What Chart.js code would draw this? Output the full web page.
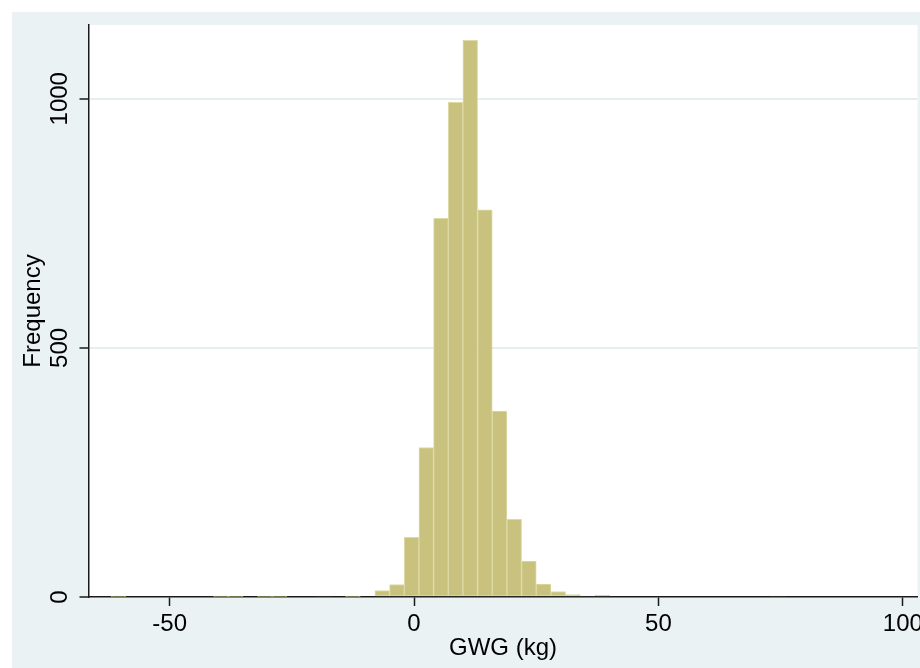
<!DOCTYPE html>
<html>
<head>
<meta charset="utf-8">
<script src="https://cdn.jsdelivr.net/npm/chart.js@4.4.1/dist/chart.umd.min.js"></script>
<style>
  html, body { margin: 0; padding: 0; background: #fff; }
  #wrap { width: 920px; height: 668px; }
</style>
</head>
<body>
<div id="wrap"><canvas id="hist" width="920" height="668"></canvas></div>
<script>
// histogram bins: lower edge of first bin and bin width (kg)
const binStart = -62;
const binWidth = 3;
// frequency in each bin
const counts = [
  1, 0, 0, 0, 0, 0, 0, 1, 1, 0, 1, 1, 0, 0, 2, 0, 1, 0,
  13, 25, 120, 300, 760, 993, 1117, 777, 373, 156, 72, 26, 11, 5, 2, 4,
  0, 0, 0, 0, 0, 0, 0, 0, 0, 0, 0, 2, 0, 0, 0, 0, 0, 0, 0, 0, 0
];
const xTicks = [-50, 0, 50, 100];
const yTicks = [0, 500, 1000];
const xTitle = "GWG (kg)";
const yTitle = "Frequency";

const barData = counts.map((c, i) => ({ x: binStart + binWidth * (i + 0.5), y: c }));

const font = { family: "'Liberation Sans', Arial, sans-serif", size: 24 };
const ink = "#1a1a1a";

// stata-style light graph region and white plot region
const stataBg = {
  id: "stataBg",
  beforeDraw(chart) {
    const ctx = chart.ctx;
    const a = chart.chartArea;
    ctx.save();
    ctx.fillStyle = "#eaf2f3";
    ctx.fillRect(12, 12, chart.width - 12, chart.height - 12);
    ctx.fillStyle = "#ffffff";
    ctx.fillRect(a.left, a.top, a.right - a.left, a.bottom - a.top);
    ctx.restore();
  }
};

const ctx = document.getElementById("hist").getContext("2d");
new Chart(ctx, {
  type: "bar",
  data: {
    datasets: [{
      label: yTitle,
      data: barData,
      backgroundColor: "#c8c27e",
      borderColor: "#dedaa6",
      borderWidth: 1,
      borderSkipped: false,
      barPercentage: 1,
      categoryPercentage: 1
    }]
  },
  options: {
    responsive: false,
    animation: false,
    layout: { padding: { top: 25, right: 2.5, left: 0, bottom: 0 } },
    plugins: {
      legend: { display: false },
      tooltip: { enabled: false }
    },
    scales: {
      x: {
        type: "linear",
        min: -66.6,
        max: 103,
        offset: false,
        afterBuildTicks: (s) => { s.ticks = xTicks.map((v) => ({ value: v })); },
        afterFit: (s) => { s.height = 71; s.paddingLeft = 0; s.paddingRight = 0; },
        grid: { offset: false, drawOnChartArea: false, drawTicks: true, tickLength: 9, tickColor: ink, tickWidth: 1.5 },
        border: { display: true, color: ink, width: 1.5 },
        ticks: { padding: 4, color: "#000", font: font, maxRotation: 0, autoSkip: false,
                 callback: (v) => String(v) },
        title: { display: true, text: xTitle, color: "#000", font: font, padding: { top: 0, bottom: 5 } }
      },
      y: {
        min: 0,
        max: 1148,
        afterBuildTicks: (s) => { s.ticks = yTicks.map((v) => ({ value: v })); },
        afterFit: (s) => { s.width = 88.5; s.paddingTop = 0; s.paddingBottom = 0; },
        grid: {
          color: (c) => (c.tick && c.tick.value === 0 ? "rgba(0,0,0,0)" : "#e6eef0"),
          lineWidth: 2,
          tickLength: 9,
          tickColor: ink,
          tickWidth: 1.5
        },
        border: { display: true, color: ink, width: 1.5 },
        ticks: { minRotation: 90, maxRotation: 90, crossAlign: "center", padding: -8,
                 color: "#000", font: font, autoSkip: false, callback: (v) => String(v) },
        title: { display: true, text: yTitle, color: "#000", font: font, padding: { top: 19, bottom: 0 } }
      }
    }
  },
  plugins: [stataBg]
});
</script>
</body>
</html>
